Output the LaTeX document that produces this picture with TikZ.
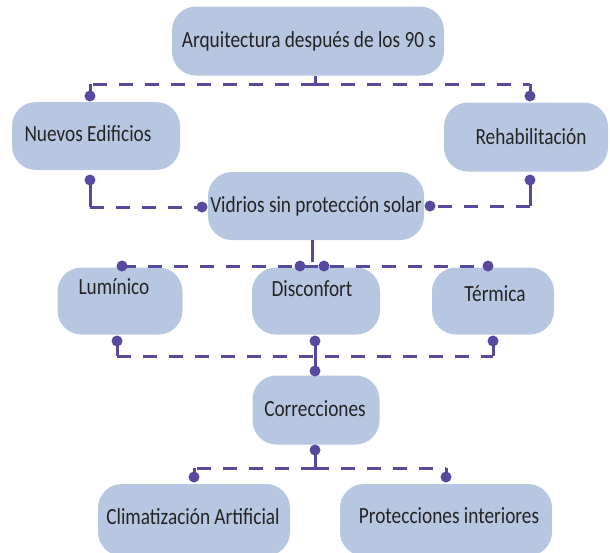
\documentclass[tikz,border=0pt]{standalone}
\usepackage{graphicx}
\usepackage{fontspec}
\setmainfont{Carlito}
\definecolor{boxfill}{RGB}{184,199,225}
\definecolor{linkcol}{RGB}{86,73,158}
\definecolor{txt}{RGB}{36,36,36}
\newcommand{\tall}[1]{\scalebox{1}[1.2]{#1}}
\tikzset{
  box/.style={fill=boxfill, rounded corners=24pt, inner sep=0pt},
  lbl/.style={text=txt, font=\fontsize{19.3}{22}\selectfont, inner sep=0pt},
  link/.style={draw=linkcol, line width=3pt, dash pattern=on 14pt off 12pt},
  stem/.style={draw=linkcol, line width=3pt},
  dotr/.style={fill=linkcol},
}
\newcommand{\knob}[1]{\fill[dotr] (#1) circle (5.5pt);}
\begin{document}
\begin{tikzpicture}[x=1pt,y=-1pt]
\useasboundingbox (0,0) rectangle (610,552);

% boxes
\node[box, minimum width=272pt, minimum height=69pt] (top) at (308,41) {};
\node[box, minimum width=168pt, minimum height=68pt] (nue) at (96,136) {};
\node[box, minimum width=164pt, minimum height=69pt] (reh) at (526,137) {};
\node[box, minimum width=216pt, minimum height=68pt] (vid) at (316,206) {};
\node[box, minimum width=125pt, minimum height=67pt] (lum) at (120,301) {};
\node[box, minimum width=128pt, minimum height=67pt] (dis) at (316,301) {};
\node[box, minimum width=122pt, minimum height=67pt] (ter) at (493,301) {};
\node[box, minimum width=127pt, minimum height=69pt] (cor) at (316,410) {};
\node[box, minimum width=192pt, minimum height=72pt] (cli) at (194,520) {};
\node[box, minimum width=212pt, minimum height=72pt] (pro) at (446,520) {};

% labels
\node[lbl] (topt) at (309,41) {\tall{Arquitectura después de los 90 s}};
\node[lbl] (nuet) at (88,134) {\tall{Nuevos Edificios}};
\node[lbl] (reht) at (531,137) {\tall{Rehabilitación}};
\node[lbl] (vidt) at (316,206) {\tall{Vidrios sin protección solar}};
\node[lbl] (lumt) at (114,287) {\tall{Lumínico}};
\node[lbl] (dist) at (312,289) {\tall{Disconfort}};
\node[lbl] (tert) at (495,294) {\tall{Térmica}};
\node[lbl] (cort) at (315,409) {\tall{Correcciones}};
\node[lbl] (clit) at (193,517) {\tall{Climatización Artificial}};
\node[lbl] (prot) at (449,516) {\tall{Protecciones interiores}};

% junction points and dot positions
\coordinate (a0) at (315,84);
\coordinate (aL) at (90,84);   \coordinate (aLd) at (90,96);
\coordinate (aR) at (530,84);  \coordinate (aRd) at (530,96);

\coordinate (bLd) at (90,180);  \coordinate (bL) at (90,207);  \coordinate (bLe) at (202,207);
\coordinate (bRd) at (530,180); \coordinate (bR) at (530,206); \coordinate (bRe) at (430,206);

\coordinate (c0) at (312,262);
\coordinate (c1) at (122,266); \coordinate (c2) at (300,266);
\coordinate (c3) at (324,266); \coordinate (c4) at (488,266);

\coordinate (d1) at (117,341); \coordinate (d2) at (315,341); \coordinate (d3) at (493,341);
\coordinate (e1) at (117,356); \coordinate (e2) at (315,356); \coordinate (e3) at (493,356);
\coordinate (eC) at (315,371);

\coordinate (f0) at (315,450); \coordinate (f1) at (315,468);
\coordinate (fL) at (194,468); \coordinate (fLd) at (194,477);
\coordinate (fR) at (446,468); \coordinate (fRd) at (446,477);

% top -> Nuevos Edificios / Rehabilitación
\draw[stem] (top.south -| a0) -- (a0);
\draw[link] (a0) -- (aL);
\draw[link] (a0) -- (aR);
\draw[stem] (aL) -- (aLd);
\draw[stem] (aR) -- (aRd);
\knob{aLd} \knob{aRd}

% Nuevos Edificios / Rehabilitación -> Vidrios
\draw[stem] (bLd) -- (bL);
\draw[link] (bL) -- (bLe);
\draw[stem] (bRd) -- (bR);
\draw[link] (bR) -- (bRe);
\knob{bLd} \knob{bLe} \knob{bRd} \knob{bRe}

% Vidrios -> Lumínico / Disconfort / Térmica
\draw[stem] (vid.south -| c0) -- (c0);
\draw[link] (c1) -- (c4);
\knob{c1} \knob{c2} \knob{c3} \knob{c4}

% row -> Correcciones
\draw[stem] (d1) -- (e1);
\draw[stem] (d3) -- (e3);
\draw[stem] (d2) -- (eC);
\draw[link] (e1) -- (e3);
\knob{d1} \knob{d2} \knob{d3} \knob{eC}

% Correcciones -> Climatización / Protecciones
\draw[stem] (f0) -- (f1);
\draw[link] (f1) -- (fL);
\draw[link] (f1) -- (fR);
\draw[stem] (fL) -- (fLd);
\draw[stem] (fR) -- (fRd);
\knob{f0} \knob{fLd} \knob{fRd}
\end{tikzpicture}
\end{document}
